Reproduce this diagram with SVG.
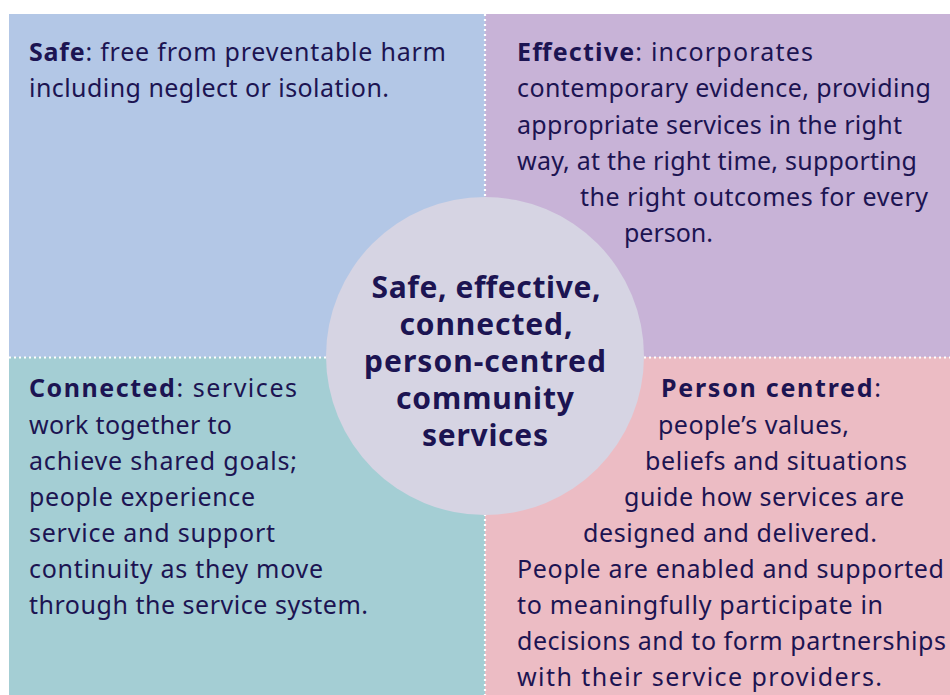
<svg xmlns="http://www.w3.org/2000/svg" width="950" height="695" viewBox="0 0 950 695">
<style>
.t{font-family:"Noto Sans","Open Sans","Liberation Sans",sans-serif;font-size:25px;fill:#1c1452}
.b{font-weight:bold}
.c{font-family:"Noto Sans","Open Sans","Liberation Sans",sans-serif;font-size:30px;font-weight:bold;fill:#1c1452;text-anchor:middle}
.div{stroke:#ffffff;stroke-width:2.2;stroke-dasharray:2 3;fill:none}
</style>
<rect x="0" y="0" width="950" height="695" fill="#ffffff"/>
<g id="safe">
<rect x="9" y="14" width="476" height="343" fill="#b3c7e6"/>
<text class="t" x="29" y="61" textLength="417"><tspan class="b">Safe</tspan>: free from preventable harm</text>
<text class="t" x="29" y="97" textLength="360">including neglect or isolation.</text>
</g>
<g id="effective">
<rect x="485" y="14" width="465" height="343" fill="#c8b3d7"/>
<text class="t" x="517" y="61" textLength="296"><tspan class="b">Effective</tspan>: incorporates</text>
<text class="t" x="517" y="97" textLength="414">contemporary evidence, providing</text>
<text class="t" x="517" y="134" textLength="385">appropriate services in the right</text>
<text class="t" x="517" y="170" textLength="400">way, at the right time, supporting</text>
<text class="t" x="580" y="206" textLength="348">the right outcomes for every</text>
<text class="t" x="624" y="242" textLength="89">person.</text>
</g>
<g id="connected">
<rect x="9" y="357" width="476" height="338" fill="#a4ced4"/>
<text class="t" x="29" y="397" textLength="268"><tspan class="b">Connected</tspan>: services</text>
<text class="t" x="29" y="434" textLength="203">work together to</text>
<text class="t" x="29" y="470" textLength="268">achieve shared goals;</text>
<text class="t" x="29" y="506" textLength="226">people experience</text>
<text class="t" x="29" y="542" textLength="246">service and support</text>
<text class="t" x="29" y="578" textLength="294">continuity as they move</text>
<text class="t" x="29" y="614" textLength="339">through the service system.</text>
</g>
<g id="person-centred">
<rect x="485" y="357" width="465" height="338" fill="#ecbcc4"/>
<text class="t" x="661" y="397" textLength="220"><tspan class="b">Person centred</tspan>:</text>
<text class="t" x="658" y="434" textLength="191">people’s values,</text>
<text class="t" x="645" y="470" textLength="262">beliefs and situations</text>
<text class="t" x="624" y="506" textLength="280">guide how services are</text>
<text class="t" x="583" y="542" textLength="294">designed and delivered.</text>
<text class="t" x="517" y="578" textLength="427">People are enabled and supported</text>
<text class="t" x="517" y="614" textLength="366">to meaningfully participate in</text>
<text class="t" x="517" y="650" textLength="429">decisions and to form partnerships</text>
<text class="t" x="517" y="686" textLength="365">with their service providers.</text>
</g>
<g id="connectors">
<line class="div" x1="485" y1="14" x2="485" y2="695"/>
<line class="div" x1="9" y1="357.5" x2="950" y2="357.5"/>
</g>
<g id="centre">
<circle cx="485" cy="356" r="159" fill="#d6d4e3"/>
<text class="c" x="486" y="298" textLength="229">Safe, effective,</text>
<text class="c" x="486" y="335" textLength="173">connected,</text>
<text class="c" x="485" y="372" textLength="242">person-centred</text>
<text class="c" x="485" y="409" textLength="178">community</text>
<text class="c" x="485" y="446" textLength="126">services</text>
</g>
</svg>
